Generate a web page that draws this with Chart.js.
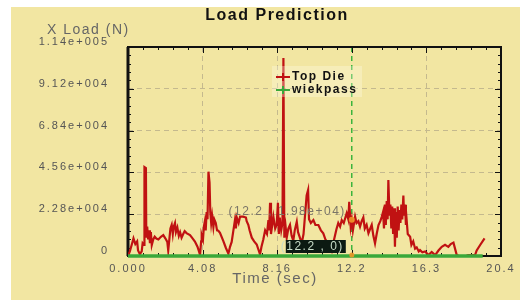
<!DOCTYPE html>
<html>
<head>
<meta charset="utf-8">
<script src="https://cdn.jsdelivr.net/npm/chart.js@4.4.1/dist/chart.umd.min.js"></script>
<style>
  html, body { margin: 0; padding: 0; background: #f2e6a2; overflow: hidden; }
  canvas { display: block; }
</style>
</head>
<body>
<canvas id="chart" width="520" height="300"></canvas>
<script>
// Top Die load trace (time in sec, load in N)
const timeSec = [
  0.0, 0.1, 0.2, 0.3, 0.4, 0.5, 0.55, 0.65, 0.75, 0.8, 0.88, 0.9, 0.98, 1.0, 1.05, 1.1, 1.15, 1.2, 1.25, 1.3,
  1.38, 1.46, 1.55, 1.66, 1.8, 1.93, 2.05, 2.15, 2.2, 2.25, 2.32, 2.39, 2.45, 2.5, 2.57, 2.62, 2.7, 2.78, 2.85, 2.93,
  3.02, 3.1, 3.2, 3.39, 3.5, 3.66, 3.8, 3.9, 3.94, 4.0, 4.03, 4.1, 4.15, 4.2, 4.25, 4.3, 4.35, 4.4, 4.46, 4.5,
  4.55, 4.6, 4.67, 4.72, 4.8, 4.87, 4.94, 5.03, 5.21, 5.35, 5.49, 5.58, 5.67, 5.75, 5.85, 5.9, 5.95, 6.05, 6.13, 6.3,
  6.45, 6.49, 6.58, 6.65, 6.77, 6.9, 7.04, 7.15, 7.22, 7.3, 7.4, 7.5, 7.6, 7.68, 7.72, 7.77, 7.82, 7.95, 8.05, 8.13,
  8.2, 8.25, 8.3, 8.38, 8.45, 8.5, 8.55, 8.62, 8.68, 8.77, 8.86, 8.95, 9.04, 9.12, 9.23, 9.3, 9.4, 9.5, 9.6, 9.77,
  9.85, 9.9, 10.0, 10.14, 10.25, 10.41, 10.55, 10.68, 10.8, 10.96, 11.14, 11.25, 11.4, 11.5, 11.6, 11.69, 11.8, 11.96, 12.05, 12.1,
  12.18, 12.24, 12.3, 12.42, 12.5, 12.6, 12.69, 12.78, 12.87, 12.95, 13.05, 13.15, 13.25, 13.33, 13.42, 13.51, 13.6, 13.7, 13.8, 13.88,
  13.95, 14.0, 14.05, 14.1, 14.15, 14.2, 14.24, 14.3, 14.35, 14.4, 14.45, 14.5, 14.55, 14.6, 14.65, 14.7, 14.75, 14.8, 14.85, 14.9,
  14.95, 15.0, 15.06, 15.1, 15.15, 15.2, 15.24, 15.3, 15.43, 15.5, 15.6, 15.7, 15.79, 15.9, 15.97, 16.1, 16.25, 16.43, 16.61, 16.8,
  16.98, 17.16, 17.34, 17.52, 17.65, 17.8, 17.98, 18.1, 18.5, 18.6, 18.98, 19.07, 19.26, 19.5
];
const topDie = [
  0, 2500, 6000, 9600, 6500, 8000, 3000, 1000, 2500, 7000, 6000, 48500, 48000, 10000, 16000, 9000, 14000, 7000, 13000, 6000,
  9000, 10500, 9500, 9000, 10500, 11400, 9500, 7700, 3000, 8000, 15000, 17000, 12000, 16000, 18000, 13000, 15500, 11000, 13000, 10000,
  12000, 13600, 12500, 11400, 10000, 7900, 5100, 2000, 600, 8000, 11400, 9000, 16000, 18700, 14000, 24000, 20000, 46000, 40000, 24000,
  18000, 22000, 15800, 20000, 18000, 14000, 13800, 12700, 8300, 4500, 1300, 5000, 7700, 13000, 19600, 15000, 21000, 18000, 21500, 21500,
  21000, 19000, 17000, 14000, 10000, 8000, 6300, 3000, 900, 5000, 9000, 14000, 12000, 19600, 14000, 29000, 12000, 21500, 15000, 17000,
  29000, 12000, 21000, 14000, 18000, 108000, 10000, 16000, 10000, 15000, 17000, 11000, 8300, 14000, 18700, 13000, 10000, 7000, 12000, 33000,
  36000, 20000, 18000, 19600, 17000, 16900, 14000, 12400, 9000, 6000, 2700, 8000, 14600, 18000, 16000, 19600, 18000, 23300, 20000, 29600,
  16000, 19800, 14000, 21400, 18000, 19000, 16000, 19000, 21000, 15000, 17000, 12400, 15000, 17000, 11000, 6900, 12000, 16900, 19000, 21400,
  24000, 15000, 28000, 17000, 30000, 20000, 41400, 22000, 28000, 15000, 27000, 12000, 26000, 5000, 24000, 10000, 27000, 14000, 25000, 18000,
  28000, 20000, 33000, 22000, 28000, 17000, 19600, 12000, 10500, 6000, 8000, 4000, 4700, 2500, 3200, 2000, 2500, 500, 2200, 500,
  3000, 5000, 6100, 5000, 6500, 7300, 500, 0, 0, 500, 500, 3000, 6000, 9600
];
const wiekTime = [0, 19.4];
const wiekpass = [0, 0];

const xTicks = [0, 4.08, 8.16, 12.24, 16.32, 20.4];
const xTickLabels = ["0.000", "4.08", "8.16", "12.2", "16.3", "20.4"];
const yTicks = [0, 22800, 45600, 68400, 91200, 114000];
const yTickLabels = ["0", "2.28e+004", "4.56e+004", "6.84e+004", "9.12e+004", "1.14e+005"];

const cursorX = 12.24;
const cursorY = 19800;
const cursorLabels = ["(12.2 , 1.98e+04)", "(12.2 , 0)"];

const BG = "#f2e6a2";
const FONT = "'Liberation Sans', Arial, sans-serif";

const decor = {
  id: "decor",
  beforeDraw(chart) {
    const c = chart.ctx;
    c.save();
    c.fillStyle = "#fff";
    c.fillRect(0, 0, chart.width, chart.height);
    c.fillStyle = BG;
    c.fillRect(11, 7, chart.width - 11, chart.height - 7);
    c.restore();
    c.letterSpacing = "2px";
  },
  beforeDatasetsDraw(chart) {
    const c = chart.ctx, a = chart.chartArea;
    const xs = chart.scales.x, ys = chart.scales.y;
    c.save();
    c.strokeStyle = "#111";
    c.lineWidth = 1;
    // inner ticks, 5 minor steps per major
    for (let i = 0; i <= 25; i++) {
      const len = i % 5 === 0 ? 6 : 3;
      const px = Math.round(xs.getPixelForValue(i * 0.816)) + 0.5;
      const py = Math.round(ys.getPixelForValue(i * 4560)) + 0.5;
      c.beginPath();
      c.moveTo(px, a.top); c.lineTo(px, a.top + len);
      c.moveTo(px, a.bottom); c.lineTo(px, a.bottom - len);
      c.moveTo(a.left, py); c.lineTo(a.left + len, py);
      c.moveTo(a.right, py); c.lineTo(a.right - len, py);
      c.stroke();
    }
    c.lineWidth = 2;
    c.strokeRect(a.left, a.top, a.right - a.left, a.bottom - a.top);
    c.beginPath();
    c.lineWidth = 3;
    c.moveTo(a.left, a.top); c.lineTo(a.left, a.bottom);
    c.stroke();
    c.restore();
  },
  afterDraw(chart) {
    const c = chart.ctx;
    const xs = chart.scales.x, ys = chart.scales.y;
    c.save();
    // titles
    c.textBaseline = "middle";
    c.fillStyle = "#111";
    c.letterSpacing = "1.5px";
    c.textAlign = "center";
    c.font = "bold 16px " + FONT;
    c.fillText("Load Prediction", 277, 16);
    c.fillStyle = "#666";
    c.font = "14px " + FONT;
    c.textAlign = "left";
    c.fillText("X Load (N)", 47, 30);
    c.textAlign = "center";
    c.font = "15px " + FONT;
    c.fillText("Time (sec)", 275, 279);

    // cursor readouts
    const cx = xs.getPixelForValue(cursorX);
    const cy = ys.getPixelForValue(cursorY);
    const cy0 = ys.getPixelForValue(0);
    c.font = "12px " + FONT;
    c.textAlign = "right";
    c.fillStyle = "#7a7568";
    c.fillText(cursorLabels[0], cx - 6, cy - 8);
    c.fillStyle = "#0c1a12";
    c.fillRect(cx - 66, cy0 - 16, 60, 13);
    c.fillStyle = "#c8dcc8";
    c.fillText(cursorLabels[1], cx - 8, cy0 - 9);
    c.fillStyle = "rgba(240,150,40,0.9)";
    c.beginPath(); c.arc(cx, cy, 3, 0, Math.PI * 2); c.fill();
    c.beginPath(); c.arc(cx, cy0 - 1, 2.5, 0, Math.PI * 2); c.fill();

    // legend
    c.fillStyle = "rgba(255,255,235,0.3)";
    c.fillRect(272, 66, 90, 31);
    c.font = "bold 12px " + FONT;
    c.textAlign = "left";
    chart.data.datasets.forEach((ds, i) => {
      const y = 77 + i * 13;
      c.strokeStyle = ds.borderColor;
      c.lineWidth = 2;
      c.beginPath();
      c.moveTo(276, y); c.lineTo(290, y);
      c.moveTo(283, y - 4); c.lineTo(283, y + 4);
      c.stroke();
      c.fillStyle = "#111";
      c.fillText(ds.label, 292, y);
    });
    c.restore();
  }
};

new Chart(document.getElementById("chart"), {
  type: "line",
  data: {
    datasets: [
      {
        label: "Top Die",
        data: timeSec.map((t, i) => ({ x: t, y: topDie[i] })),
        borderColor: "#c01212",
        borderWidth: 2.2,
        pointRadius: 0,
        tension: 0,
        order: 1
      },
      {
        label: "wiekpass",
        data: wiekTime.map((t, i) => ({ x: t, y: wiekpass[i] })),
        borderColor: "#3aa83a",
        borderWidth: 3.5,
        pointRadius: 0,
        clip: 6,
        order: 0
      }
    ]
  },
  options: {
    responsive: false,
    animation: false,
    layout: { padding: { top: 47, right: 19, left: 0, bottom: 0 } },
    plugins: { legend: { display: false }, tooltip: { enabled: false } },
    scales: {
      x: {
        type: "linear",
        min: 0,
        max: 20.4,
        afterBuildTicks: s => { s.ticks = xTicks.map(v => ({ value: v })); },
        afterFit: s => { s.height = 44; },
        ticks: {
          callback: (v, i) => xTickLabels[i],
          color: "#555",
          font: { family: FONT, size: 11 },
          padding: 6,
          maxRotation: 0,
          autoSkip: false
        },
        grid: {
          drawTicks: false,
          color: ctx => (ctx.tick && ctx.tick.value === cursorX) ? "#3cb43c" : "#c4b98e",
          lineWidth: ctx => (ctx.tick && ctx.tick.value === cursorX) ? 1.5 : 1
        },
        border: { display: false, dash: [5, 4] }
      },
      y: {
        min: 0,
        max: 114000,
        afterBuildTicks: s => { s.ticks = yTicks.map(v => ({ value: v })); },
        afterFit: s => { s.width = 128; },
        ticks: {
          callback: (v, i) => yTickLabels[i],
          color: "#555",
          font: { family: FONT, size: 11 },
          padding: 19,
          labelOffset: -5
        },
        grid: { drawTicks: false, color: "#c4b98e" },
        border: { display: false, dash: [5, 4] }
      }
    }
  },
  plugins: [decor]
});
</script>
</body>
</html>
